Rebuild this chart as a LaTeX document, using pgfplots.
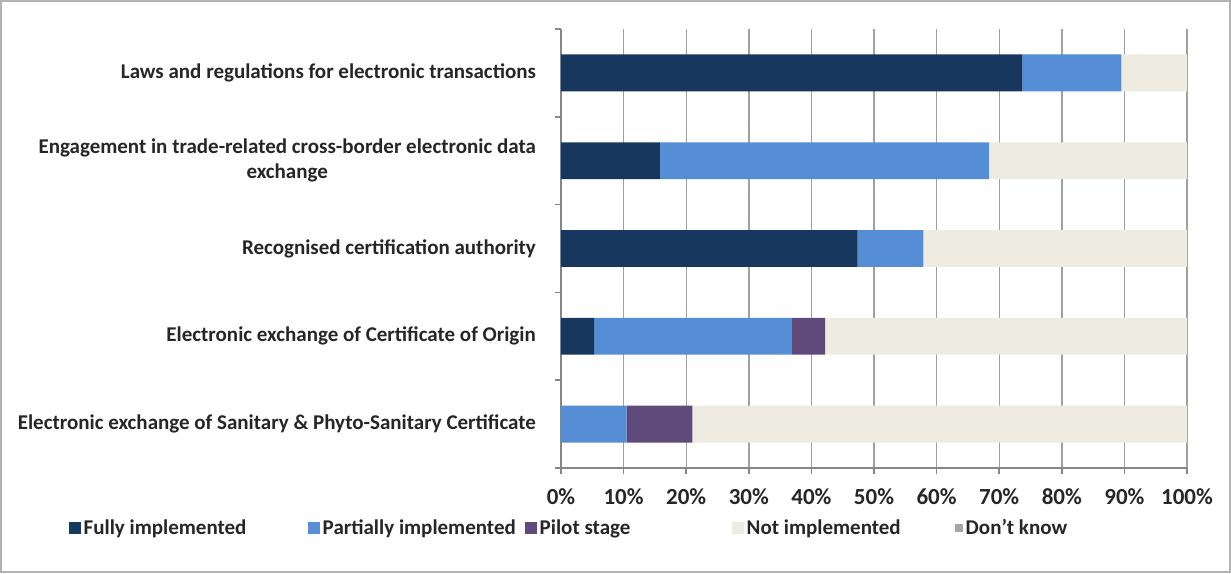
\documentclass[border=0pt]{standalone}
\usepackage{pgfplots}
\pgfplotsset{compat=1.18}
\usepackage{pgfplotstable}
\usepackage{fontspec}
\setmainfont{Carlito}
\definecolor{fullyc}{RGB}{23,55,94}
\definecolor{partc}{RGB}{85,142,213}
\definecolor{pilotc}{RGB}{96,74,123}
\definecolor{notc}{RGB}{238,236,225}
\definecolor{dkc}{RGB}{166,166,166}
\definecolor{axisgray}{RGB}{134,134,134}
\definecolor{gridgray}{RGB}{160,160,160}

% shares of 19 economies, in percent; row 0 is the bottom bar
\pgfplotstableread{
cat fully partial pilot notimpl dontknow
0 0    10.5 10.5 79.0 0
1 5.3  31.6 5.3  57.8 0
2 47.4 10.5 0    42.1 0
3 15.8 52.6 0    31.6 0
4 73.7 15.8 0    10.5 0
}\datatable

\begin{document}
\begin{tikzpicture}
\useasboundingbox (0,0) rectangle (615.5pt,286.5pt);
\draw[gridgray!80, line width=1.2pt] (0.6pt,0.6pt) rectangle (614.9pt,285.9pt);
\begin{axis}[
  at={(280.5pt,52.5pt)}, anchor=south west,
  scale only axis, width=313pt, height=219.5pt,
  xbar stacked, bar width=0.42,
  xmin=0, xmax=100, ymin=-0.5, ymax=4.5,
  axis x line*=bottom, axis y line*=left,
  axis line style={axisgray, line width=1pt},
  xtick={0,10,...,100},
  xticklabels={0\%,10\%,20\%,30\%,40\%,50\%,60\%,70\%,80\%,90\%,100\%},
  xmajorgrids, grid style={gridgray, line width=0.7pt},
  tick align=outside, major tick length=3pt,
  xtick style={axisgray, line width=0.8pt},
  ytick={0,1,2,3,4},
  yticklabels={
    Electronic exchange of Sanitary \& Phyto-Sanitary Certificate,
    Electronic exchange of Certificate of Origin,
    Recognised certification authority,
    {Engagement in trade-related cross-border electronic data\\exchange},
    Laws and regulations for electronic transactions},
  ytick style={draw=none},
  minor ytick={-0.5,0.5,1.5,2.5,3.5,4.5},
  minor tick length=3pt,
  minor y tick style={axisgray, line width=0.8pt, draw},
  yticklabel style={font=\fontsize{10.5}{12.5}\selectfont\bfseries, text=black!85,
    align=center, xshift=-6pt},
  xticklabel style={font=\fontsize{11.5}{13}\selectfont\bfseries, text=black!85,
    yshift=-4pt},
  legend columns=5,
  legend cell align=left,
  legend style={at={(-0.787,-0.137)}, anchor=west, draw=none, fill=none,
    inner sep=0pt, column sep=0pt,
    nodes={inner sep=1.5pt, font=\fontsize{10.5}{12}\selectfont\bfseries, text=black!85}},
  legend image code/.code={\fill[#1] (0pt,-3pt) rectangle (6pt,3pt);},
  clip=false,
]
\addplot[fill=fullyc, draw=none] table[x=fully, y=cat] {\datatable};
\addlegendentry{\makebox[110.5pt][l]{Fully implemented}}
\addplot[fill=partc, draw=none] table[x=partial, y=cat] {\datatable};
\addlegendentry{\makebox[99.5pt][l]{Partially implemented}}
\addplot[fill=pilotc, draw=none] table[x=pilot, y=cat] {\datatable};
\addlegendentry{\makebox[94.5pt][l]{Pilot stage}}
\addplot[fill=notc, draw=none] table[x=notimpl, y=cat] {\datatable};
\addlegendentry{\makebox[102.5pt][l]{Not implemented}}
\addplot[fill=dkc, draw=none,
  legend image code/.code={\fill[dkc] (1pt,-2pt) rectangle (5pt,2pt);}]
  table[x=dontknow, y=cat] {\datatable};
\addlegendentry{Don't know}
\end{axis}
\end{tikzpicture}
\end{document}
